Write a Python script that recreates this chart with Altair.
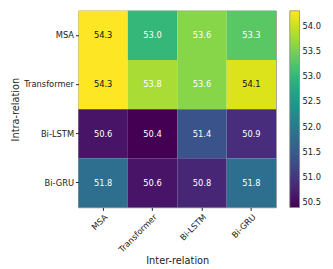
import altair as alt
import pandas as pd

inter = ["MSA", "Transformer", "Bi-LSTM", "Bi-GRU"]
intra = ["MSA", "Transformer", "Bi-LSTM", "Bi-GRU"]
values = [
    [54.3, 53.0, 53.6, 53.3],
    [54.3, 53.8, 53.6, 54.1],
    [50.6, 50.4, 51.4, 50.9],
    [51.8, 50.6, 50.8, 51.8],
]
legend_ticks = [50.5, 51.0, 51.5, 52.0, 52.5, 53.0, 53.5, 54.0]

rows = []
for i, r in enumerate(intra):
    for j, c in enumerate(inter):
        rows.append({"Intra": r, "Inter": c, "v": values[i][j],
                     "label": f"{values[i][j]:.1f}"})
df = pd.DataFrame(rows)

FONT = "DejaVu Sans"
LS = 8.5

base = alt.Chart(df).encode(
    x=alt.X("Inter:N", sort=inter, title="Inter-relation",
            axis=alt.Axis(labelAngle=315, labelAlign="right", labelBaseline="top",
                          labelFontSize=LS, titleFontSize=10, titleFontWeight="normal",
                          labelFont=FONT, titleFont=FONT, labelColor="#222",
                          titleColor="#222", tickColor="#222", tickSize=3,
                          domain=False, titlePadding=2, labelPadding=2)),
    y=alt.Y("Intra:N", sort=intra, title="Intra-relation",
            axis=alt.Axis(labelFontSize=LS, titleFontSize=10, titleFontWeight="normal",
                          labelFont=FONT, titleFont=FONT, labelColor="#222",
                          titleColor="#222", tickColor="#222", tickSize=3,
                          domain=False, titlePadding=3, labelPadding=2)),
)

rects = base.mark_rect().encode(
    color=alt.Color("v:Q", scale=alt.Scale(scheme="viridis", domain=[50.4, 54.3]),
                    legend=alt.Legend(title=None, orient="none", legendX=216, legendY=0,
                                      direction="vertical", gradientLength=201,
                                      gradientThickness=10, values=legend_ticks,
                                      labelFontSize=LS, labelFont=FONT, labelColor="#222",
                                      gradientStrokeColor="#888", gradientStrokeWidth=0.8,
                                      labelOffset=3, format=".1f"))
)

text = base.mark_text(fontSize=LS, font=FONT).encode(
    text="label:N",
    color=alt.condition(alt.datum.v >= 54.0, alt.value("#111"), alt.value("white")),
)

chart = (rects + text).properties(
    width=202, height=201,
    autosize=alt.AutoSizeParams(type="none"),
    padding={"left": 72, "top": 0, "right": 50, "bottom": 58},
).configure_view(stroke="#777", strokeWidth=0.8)

chart.save("out.html", embed_options={"renderer": "svg", "actions": False})
